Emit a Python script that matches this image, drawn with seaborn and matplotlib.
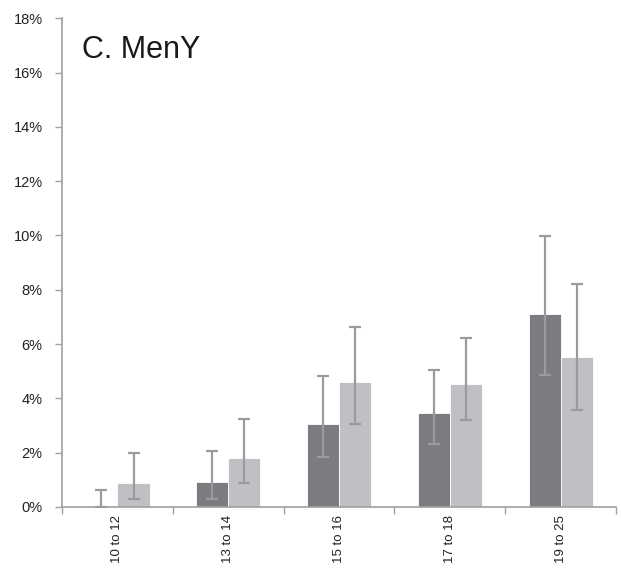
import numpy as np
import pandas as pd
import seaborn as sns
import matplotlib.pyplot as plt
from matplotlib.ticker import FixedLocator, PercentFormatter

age_groups = ["10 to 12", "13 to 14", "15 to 16", "17 to 18", "19 to 25"]
series_names = ["Group A", "Group B"]

# prevalence (%) with lower / upper confidence limits
dark_vals = [0.0, 0.92, 3.07, 3.47, 7.12]
dark_low = [0.0, 0.31, 1.84, 2.32, 4.86]
dark_high = [0.64, 2.07, 4.82, 5.03, 9.98]

light_vals = [0.87, 1.79, 4.61, 4.53, 5.53]
light_low = [0.29, 0.89, 3.07, 3.19, 3.57]
light_high = [1.99, 3.24, 6.63, 6.23, 8.20]

df = pd.DataFrame({
    "age": age_groups * 2,
    "series": [series_names[0]] * 5 + [series_names[1]] * 5,
    "value": dark_vals + light_vals,
})

sns.set_theme(style="white")
plt.rcParams["font.family"] = ["Liberation Sans", "DejaVu Sans"]

fig = plt.figure(figsize=(6.21, 5.69), dpi=100)
ax = fig.add_axes([0.1, 0.109, 0.892, 0.859])

sns.barplot(data=df, x="age", y="value", hue="series", order=age_groups,
            hue_order=series_names, palette=["#7b7c80", "#bfc0c3"],
            width=0.58, gap=0, errorbar=None, legend=False, ax=ax,
            edgecolor="white", linewidth=0.6, saturation=1)

for cont, vals, lo, hi in zip(ax.containers, [dark_vals, light_vals],
                              [dark_low, light_low], [dark_high, light_high]):
    xs = [b.get_x() + b.get_width() / 2 for b in cont]
    v = np.array(vals)
    yerr = np.vstack([v - np.array(lo), np.array(hi) - v])
    ax.errorbar(xs, v, yerr=yerr, fmt="none", ecolor="#9a9b9d",
                elinewidth=1.6, capsize=4, capthick=1.6, zorder=5)

ax.set_xlim(-0.5, len(age_groups) - 0.5)
ax.set_ylim(0, 18)
ax.yaxis.set_major_locator(FixedLocator(np.arange(0, 19, 2)))
ax.yaxis.set_major_formatter(PercentFormatter(decimals=0))

ax.set_xticks(range(len(age_groups)))
ax.set_xticklabels(age_groups, rotation=90, fontsize=9.5, color="#222222")
ax.set_xticks(np.arange(-0.5, len(age_groups)), minor=True)
ax.tick_params(axis="x", which="major", length=0, pad=6)
ax.tick_params(axis="x", which="minor", length=5, width=1, color="#a0a0a0",
               direction="out", bottom=True)
ax.tick_params(axis="y", length=5, width=1, color="#a0a0a0", direction="out",
               left=True, labelsize=10.5, labelcolor="#222222", pad=9)

for side in ["top", "right"]:
    ax.spines[side].set_visible(False)
for side in ["left", "bottom"]:
    ax.spines[side].set_color("#a0a0a0")
    ax.spines[side].set_linewidth(1.2)

ax.set_xlabel("")
ax.set_ylabel("")
ax.text(0.036, 0.965, "C. MenY", transform=ax.transAxes, fontsize=22,
        va="top", ha="left", color="#1a1a1a")

fig.savefig("out.png", dpi=100)
